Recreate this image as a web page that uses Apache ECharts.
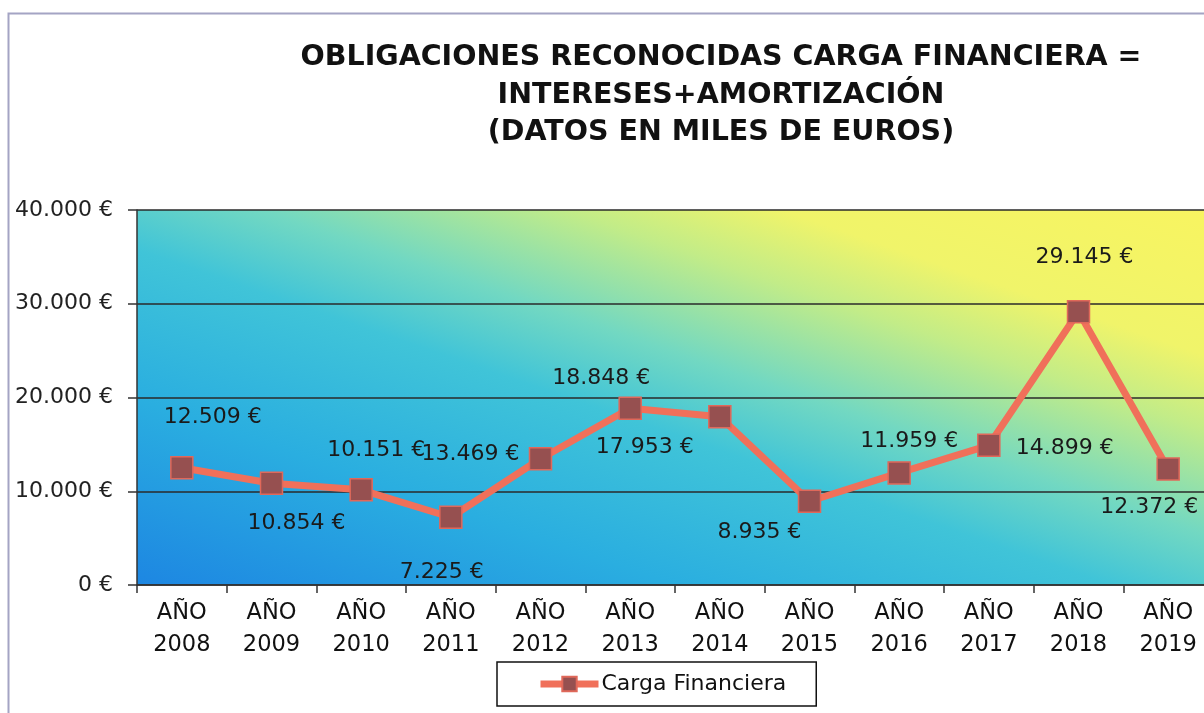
<!DOCTYPE html>
<html>
<head>
<meta charset="utf-8">
<script src="https://cdn.jsdelivr.net/npm/echarts@6/dist/echarts.min.js"></script>
<style>
html,body{margin:0;padding:0;background:#fff;overflow:hidden;}
#chart{width:1204px;height:713px;}
</style>
</head>
<body>
<div id="chart"></div>
<script>
// ---- data ----
const categories = ['AÑO\n2008','AÑO\n2009','AÑO\n2010','AÑO\n2011','AÑO\n2012','AÑO\n2013','AÑO\n2014','AÑO\n2015','AÑO\n2016','AÑO\n2017','AÑO\n2018','AÑO\n2019'];
const cargaFinanciera = [12509, 10854, 10151, 7225, 13469, 18848, 17953, 8935, 11959, 14899, 29145, 12372];
const yTicks = [0, 10000, 20000, 30000, 40000];
const seriesName = 'Carga Financiera';
const titleText = 'OBLIGACIONES RECONOCIDAS CARGA FINANCIERA =\nINTERESES+AMORTIZACIÓN\n(DATOS EN MILES DE EUROS)';

// label placement (style only)
const labelOffsets = [[31,-50],[25,40],[15,-40],[-9,55],[-70,-4],[-29,-30],[-75,31],[-50,31],[10,-32],[76,3],[6,-54],[-19,38]];

function fmt(v){
  return String(Math.round(v)).replace(/\B(?=(\d{3})+(?!\d))/g, '.') + ' €';
}

const chart = echarts.init(document.getElementById('chart'));
const font = 'DejaVu Sans';
chart.setOption({
  animation: false,
  backgroundColor: '#ffffff',
  textStyle: { fontFamily: font },
  title: {
    text: titleText,
    left: 716, top: 34, textAlign: 'center',
    textStyle: { fontFamily: font, fontWeight: 'bold', fontSize: 28.5, lineHeight: 37.5, color: '#111' }
  },
  graphic: [{
    type: 'rect', left: 6, top: 11, silent: true, z: -1,
    shape: { width: 1300, height: 800 },
    style: { fill: 'none', stroke: '#a4a4c4', lineWidth: 2 }
  }],
  grid: {
    left: 137, top: 210, width: 1076, height: 375,
    outerBoundsMode: 'none',
    show: true, borderWidth: 0,
    backgroundColor: {
      type: 'linear', x: 0.393, y: 1.392, x2: 0.607, y2: -0.392,
      colorStops: [
        { offset: 0, color: '#1d86e2' },
        { offset: 0.25, color: '#2aaee0' },
        { offset: 0.45, color: '#40c4d8' },
        { offset: 0.56, color: '#72d8c2' },
        { offset: 0.7, color: '#c2ec88' },
        { offset: 0.8, color: '#f0f46a' },
        { offset: 1, color: '#f8f460' }
      ]
    }
  },
  xAxis: {
    type: 'category', data: categories, boundaryGap: true,
    axisLine: { lineStyle: { color: '#333', width: 1.5 } },
    axisTick: { show: true, length: 8, lineStyle: { color: '#333', width: 1.5 } },
    axisLabel: { color: '#111', fontSize: 22.5, lineHeight: 32, margin: 12, interval: 0 }
  },
  yAxis: {
    type: 'value', min: 0, max: 40000, interval: 10000,
    axisLine: { show: true, lineStyle: { color: '#333', width: 1.5 } },
    axisTick: { show: true, length: 9, lineStyle: { color: '#333', width: 1.5 } },
    splitLine: { lineStyle: { color: '#2a2a2a', width: 1.5 } },
    axisLabel: { color: '#222', fontSize: 22, margin: 24, formatter: v => yTicks.includes(v) ? fmt(v) : '' }
  },
  legend: {
    data: [seriesName],
    left: 497, top: 662,
    padding: [11, 30, 11, 40],
    borderColor: '#111', borderWidth: 1.5, backgroundColor: '#fff',
    itemWidth: 58, itemHeight: 18, itemGap: 4,
    lineStyle: { width: 7, color: '#f0705a' },
    textStyle: { color: '#111', fontSize: 22, padding: [0,0,0,-2] }
  },
  series: [{
    name: seriesName,
    type: 'line',
    data: cargaFinanciera.map((v, i) => ({
      value: v,
      label: { offset: labelOffsets[i] }
    })),
    symbol: 'rect', symbolSize: 22,
    lineStyle: { color: '#f0705a', width: 7 },
    itemStyle: { color: '#965050', borderColor: '#e0685a', borderWidth: 1.5 },
    label: {
      show: true, position: 'inside', color: '#1a1a1a', fontSize: 22,
      formatter: p => fmt(p.value)
    }
  }]
});
</script>
</body>
</html>
